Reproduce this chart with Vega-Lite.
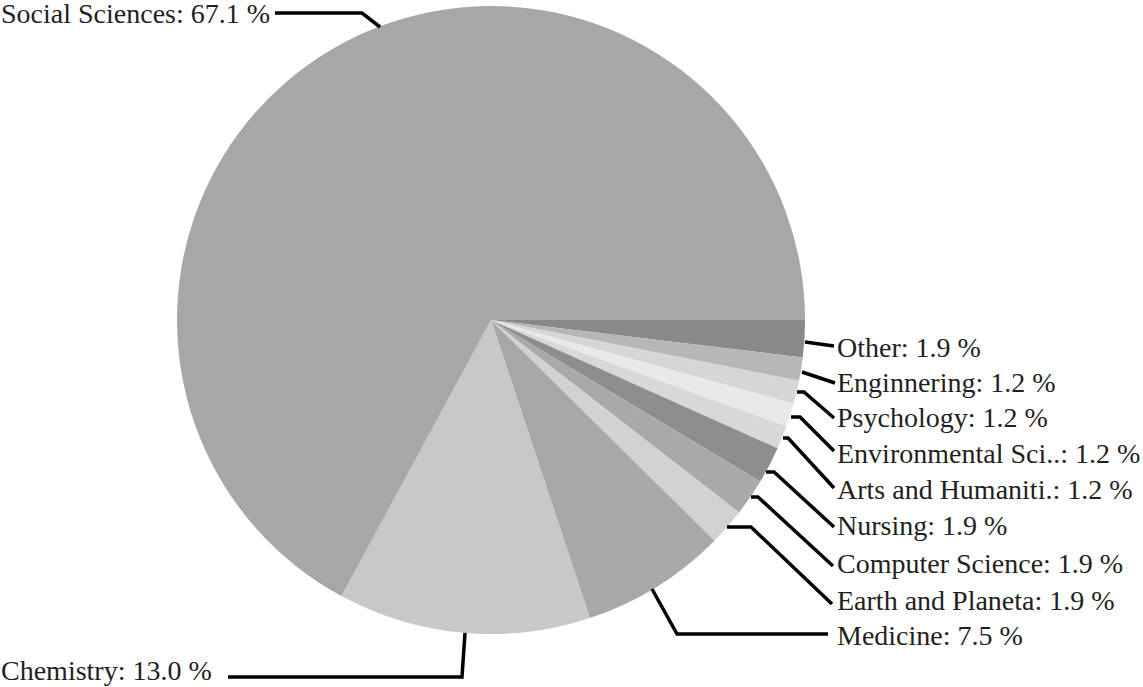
{
  "$schema": "https://vega.github.io/schema/vega-lite/v6.json",
  "width": 1143,
  "height": 687,
  "autosize": {"type": "fit", "contains": "padding"},
  "padding": 0,
  "background": "white",
  "config": {"view": {"stroke": null}},
  "datasets": {
    "slices": [
      {"subject": "Other", "share": 1.9, "ord": 1},
      {"subject": "Enginnering", "share": 1.2, "ord": 2},
      {"subject": "Psychology", "share": 1.2, "ord": 3},
      {"subject": "Environmental Sci..", "share": 1.2, "ord": 4},
      {"subject": "Arts and Humaniti.", "share": 1.2, "ord": 5},
      {"subject": "Nursing", "share": 1.9, "ord": 6},
      {"subject": "Computer Science", "share": 1.9, "ord": 7},
      {"subject": "Earth and Planeta", "share": 1.9, "ord": 8},
      {"subject": "Medicine", "share": 7.5, "ord": 9},
      {"subject": "Chemistry", "share": 13.0, "ord": 10},
      {"subject": "Social Sciences", "share": 67.1, "ord": 11}
    ],
    "labels": [
      {"text": "Social Sciences: 67.1 %", "lx": -1.5605, "ly": 0.9459},
      {"text": "Chemistry: 13.0 %", "lx": -1.5605, "ly": -1.1465},
      {"text": "Other: 1.9 %", "lx": 1.1019, "ly": -0.1178},
      {"text": "Enginnering: 1.2 %", "lx": 1.1019, "ly": -0.2293},
      {"text": "Psychology: 1.2 %", "lx": 1.1019, "ly": -0.3408},
      {"text": "Environmental Sci..: 1.2 %", "lx": 1.1019, "ly": -0.4554},
      {"text": "Arts and Humaniti.: 1.2 %", "lx": 1.1019, "ly": -0.5701},
      {"text": "Nursing: 1.9 %", "lx": 1.1019, "ly": -0.6847},
      {"text": "Computer Science: 1.9 %", "lx": 1.1019, "ly": -0.8057},
      {"text": "Earth and Planeta: 1.9 %", "lx": 1.1019, "ly": -0.9236},
      {"text": "Medicine: 7.5 %", "lx": 1.1019, "ly": -1.035}
    ],
    "leaders": [
      {"subject": "Social Sciences", "seq": 1, "px": -0.6879, "py": 0.9777},
      {"subject": "Social Sciences", "seq": 2, "px": -0.4108, "py": 0.9777},
      {"subject": "Social Sciences", "seq": 3, "px": -0.3535, "py": 0.9331},
      {"subject": "Chemistry", "seq": 1, "px": -0.0828, "py": -0.9968},
      {"subject": "Chemistry", "seq": 2, "px": -0.0924, "py": -1.1369},
      {"subject": "Chemistry", "seq": 3, "px": -0.8376, "py": -1.1369},
      {"subject": "Medicine", "seq": 1, "px": 0.5127, "py": -0.8567},
      {"subject": "Medicine", "seq": 2, "px": 0.5924, "py": -1.0},
      {"subject": "Medicine", "seq": 3, "px": 1.0732, "py": -1.0},
      {"subject": "Earth and Planeta", "seq": 1, "px": 0.7516, "py": -0.6592},
      {"subject": "Earth and Planeta", "seq": 2, "px": 0.828, "py": -0.6592},
      {"subject": "Earth and Planeta", "seq": 3, "px": 1.086, "py": -0.9045},
      {"subject": "Computer Science", "seq": 1, "px": 0.828, "py": -0.5637},
      {"subject": "Computer Science", "seq": 2, "px": 0.8503, "py": -0.5637},
      {"subject": "Computer Science", "seq": 3, "px": 1.0892, "py": -0.7834},
      {"subject": "Nursing", "seq": 1, "px": 0.8758, "py": -0.4841},
      {"subject": "Nursing", "seq": 2, "px": 0.9013, "py": -0.4841},
      {"subject": "Nursing", "seq": 3, "px": 1.0924, "py": -0.6592},
      {"subject": "Arts and Humaniti.", "seq": 1, "px": 0.9299, "py": -0.3758},
      {"subject": "Arts and Humaniti.", "seq": 2, "px": 0.9459, "py": -0.3758},
      {"subject": "Arts and Humaniti.", "seq": 3, "px": 1.0924, "py": -0.535},
      {"subject": "Environmental Sci..", "seq": 1, "px": 0.9554, "py": -0.3089},
      {"subject": "Environmental Sci..", "seq": 2, "px": 0.9841, "py": -0.3089},
      {"subject": "Environmental Sci..", "seq": 3, "px": 1.0924, "py": -0.4172},
      {"subject": "Psychology", "seq": 1, "px": 0.9745, "py": -0.2293},
      {"subject": "Psychology", "seq": 2, "px": 0.9968, "py": -0.2293},
      {"subject": "Psychology", "seq": 3, "px": 1.0924, "py": -0.3121},
      {"subject": "Enginnering", "seq": 1, "px": 0.9904, "py": -0.1656},
      {"subject": "Enginnering", "seq": 2, "px": 1.0955, "py": -0.2006},
      {"subject": "Other", "seq": 1, "px": 1.0, "py": -0.0701},
      {"subject": "Other", "seq": 2, "px": 1.0924, "py": -0.0828}
    ]
  },
  "resolve": {"scale": {"x": "shared", "y": "shared"}},
  "layer": [
    {
      "data": {"name": "slices"},
      "mark": {"type": "arc", "outerRadius": 314, "stroke": null, "strokeWidth": 0},
      "encoding": {
        "x": {"datum": 0, "type": "quantitative", "scale": {"domain": [-1.5637, 2.0764], "zero": false, "nice": false}, "axis": null},
        "y": {"datum": 0, "type": "quantitative", "scale": {"domain": [-1.1688, 1.0191], "zero": false, "nice": false}, "axis": null},
        "theta": {"field": "share", "type": "quantitative", "stack": true, "scale": {"range": [1.5707963, 7.8539816]}},
        "order": {"field": "ord", "type": "quantitative"},
        "color": {
          "field": "subject",
          "type": "nominal",
          "legend": null,
          "scale": {
            "domain": ["Other", "Enginnering", "Psychology", "Environmental Sci..", "Arts and Humaniti.", "Nursing", "Computer Science", "Earth and Planeta", "Medicine", "Chemistry", "Social Sciences"],
            "range": ["#88898b", "#b6b7b9", "#d5d6d7", "#e9e9ea", "#d7d8d9", "#8d8e90", "#a8a9ab", "#d1d2d3", "#a7a8aa", "#c7c8ca", "#a6a7a9"]
          }
        }
      }
    },
    {
      "data": {"name": "leaders"},
      "mark": {"type": "line", "color": "#000000", "strokeWidth": 3.5, "strokeCap": "butt", "strokeJoin": "miter", "interpolate": "linear"},
      "encoding": {
        "x": {"field": "px", "type": "quantitative", "axis": null},
        "y": {"field": "py", "type": "quantitative", "axis": null},
        "detail": {"field": "subject", "type": "nominal"},
        "order": {"field": "seq", "type": "quantitative"}
      }
    },
    {
      "data": {"name": "labels"},
      "mark": {"type": "text", "align": "left", "baseline": "alphabetic", "font": "Liberation Serif", "fontSize": 28, "color": "#231f20"},
      "encoding": {
        "x": {"field": "lx", "type": "quantitative", "axis": null},
        "y": {"field": "ly", "type": "quantitative", "axis": null},
        "text": {"field": "text", "type": "nominal"}
      }
    }
  ]
}
